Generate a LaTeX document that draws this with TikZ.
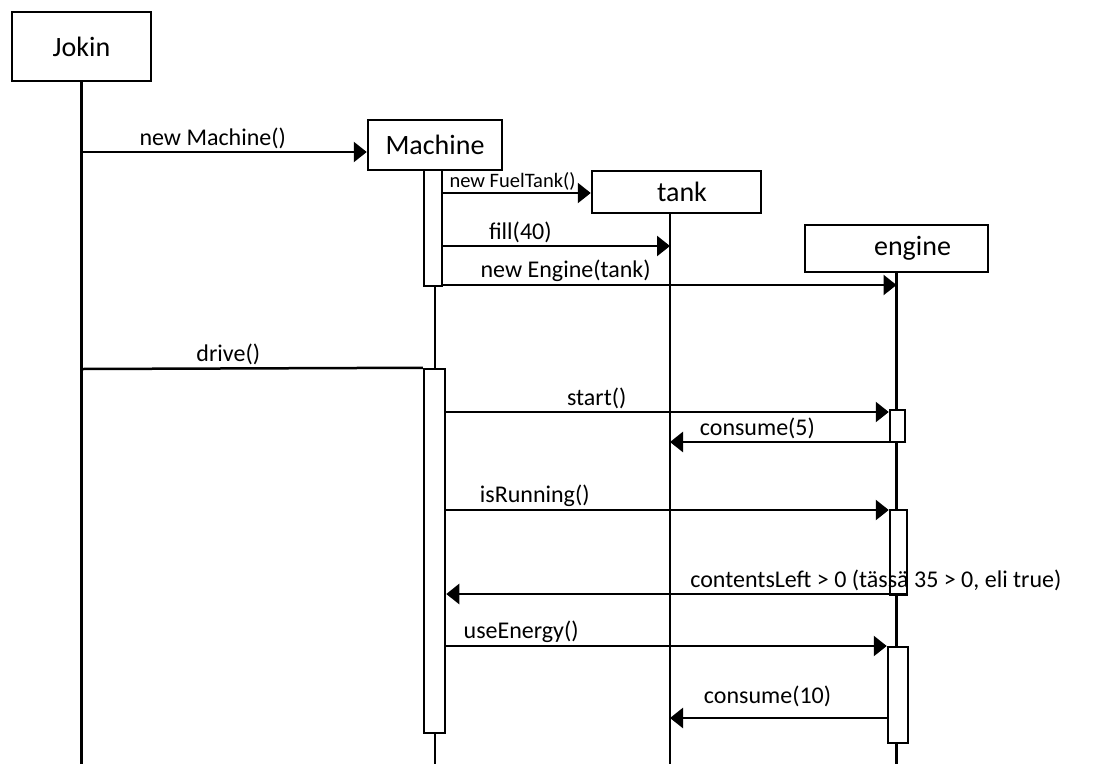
\documentclass[tikz,border=0pt]{standalone}
\usepackage{fontspec}
\setmainfont{Carlito}
\usetikzlibrary{arrows.meta}

\begin{document}
\begin{tikzpicture}[
    x = 1pt, y = -1pt,
    line width = 2.5pt,
    obj/.style = {rectangle, draw, inner sep=0pt, font=\fontsize{28}{30}\selectfont},
    act/.style = {rectangle, draw, fill=white, inner sep=0pt},
    msg/.style = {-{Triangle[length=13pt, width=20pt]}},
    lbl/.style = {above=1pt, inner sep=1pt, font=\fontsize{24}{26}\selectfont},
]
    \useasboundingbox (0,0) rectangle (1100,764);
    \coordinate (bottom) at (0,764);
    % oliot
    \node[obj, minimum width=139pt, minimum height=69pt] (Jokin)   at (81.5,46.5)  {Jokin};
    \node[obj, minimum width=134pt, minimum height=50pt] (machine) at (435,145)    {Machine};
    \node[obj, minimum width=169pt, minimum height=42pt] (tank)    at (676.5,192)  {\hspace*{11pt}tank};
    \node[obj, minimum width=183pt, minimum height=47pt] (engine)  at (896.5,248.5) {\hspace*{32pt}engine};
    \coordinate (tankline) at ([xshift=-6.5pt]tank.south);
    % elämänviivat
    \foreach \o in {Jokin.south, machine.south, tankline, engine.south}
        \draw (\o) -- (\o |- bottom);
    % aktivaatiot
    \begin{scope}[every node/.append style={act}]
        \node[minimum width=18pt, minimum height=116pt] (m1) at (433,228)     {};
        \node[minimum width=21pt, minimum height=364pt] (m2) at (434.5,551)   {};
        \node[minimum width=15pt, minimum height=32pt]  (e1) at (897.5,426)   {};
        \node[minimum width=17pt, minimum height=85pt]  (e2) at (898.5,552.5) {};
        \node[minimum width=20pt, minimum height=96pt]  (e3) at (898,695)     {};
    \end{scope}
    % viestit
    \draw[msg] (Jokin |- 0,152) -- (machine.west |- 0,152) node[lbl, pos=0.46] {new Machine()};
    \draw[msg] (m1.east |- 0,193) -- (tank.west |- 0,193)
        node[lbl, pos=0.47, above=-1pt, font=\fontsize{20.5}{22}\selectfont] {new FuelTank()};
    \draw (Jokin |- 0,369) -- (m2.north west) node[lbl, pos=0.43] {drive()};
    \foreach \y/\a/\b/\p/\t in {
            246/m1.east/tankline/0.34/fill(40),
            285/m1.east/engine/0.27/new Engine(tank),
            412/m2.east/e1.west/0.34/start(),
            442/e1.east/tankline/0.63/consume(5),
            510/m2.east/e2.west/0.2/isRunning(),
            594/e2.east/m2.east/0.07/{contentsLeft > 0 (tässä 35 > 0, eli true)},
            646/m2.east/e3.west/0.17/useEnergy()}
        \draw[msg] (\a |- 0,\y) -- (\b |- 0,\y) node[lbl, pos=\p] {\t};
    \draw[msg] (e3.west |- 0,718) -- (tankline |- 0,718) node[lbl, pos=0.55, above=8pt] {consume(10)};
\end{tikzpicture}
\end{document}
